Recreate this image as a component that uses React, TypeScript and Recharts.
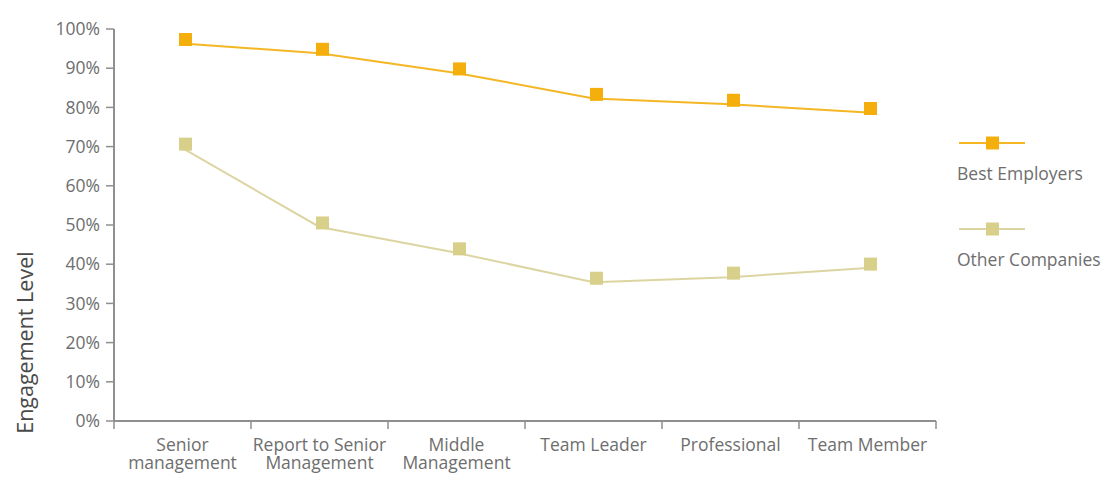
import React from 'react';
import { LineChart, Line, XAxis, YAxis, Label } from 'recharts';

const categories = ['Senior management', 'Report to Senior Management', 'Middle Management', 'Team Leader', 'Professional', 'Team Member'];
const categoryLines = [['Senior', 'management'], ['Report to Senior', 'Management'], ['Middle', 'Management'], ['Team Leader'], ['Professional'], ['Team Member']];
const seriesNames = ['Best Employers', 'Other Companies'];
const bestEmployers = [96.3, 93.8, 88.8, 82.3, 80.8, 78.7];
const otherCompanies = [69.6, 49.5, 42.9, 35.4, 36.7, 39.0];
const yTicks = [0, 10, 20, 30, 40, 50, 60, 70, 80, 90, 100];

const data = categories.map((c, i) => ({ name: c, best: bestEmployers[i], other: otherCompanies[i] }));

const FONT = '"Open Sans", "Noto Sans", sans-serif';
const BEST_LINE = '#F5B624';
const BEST_MARK = '#F4AF0C';
const OTHER_LINE = '#DCD5A2';
const OTHER_MARK = '#D8CF8A';
const AXIS = '#8f8f8f';
const TEXT = '#6e6e6e';

const SquareDot = (color: string) => (props: any) => {
  const { cx, cy, index } = props;
  if (cx == null || cy == null) return null;
  return <rect key={index} x={cx + 3 - 6.5} y={cy - 4 - 6.5} width={13} height={13} fill={color} />;
};

const XTick = (props: any) => {
  const { x, y, payload, index } = props;
  const off = payload && payload.offset ? payload.offset : 68.5;
  const lines = categoryLines[index] || [payload.value];
  const isLast = index === categories.length - 1;
  return (
    <g>
      <line x1={x - off} y1={y - 8} x2={x - off} y2={y} stroke={AXIS} strokeWidth={1.5} />
      {isLast && <line x1={x + off} y1={y - 8} x2={x + off} y2={y} stroke={AXIS} strokeWidth={1.5} />}
      {lines.map((l: string, i: number) => (
        <text key={i} x={x} y={y + 22 + i * 18} textAnchor="middle" fill={TEXT} fontSize={17.5} fontFamily={FONT}>
          {l}
        </text>
      ))}
    </g>
  );
};

const YLabel = (props: any) => {
  const vb = props.viewBox || { x: 10, y: 29, width: 104, height: 392 };
  const cx = vb.x + 15;
  const cy = vb.y + vb.height * 0.8;
  return (
    <text x={cx} y={cy} transform={`rotate(-90 ${cx} ${cy})`} textAnchor="middle" dominantBaseline="central" fill="#4a4a4a" fontSize={21.5} fontFamily={FONT}>
      Engagement Level
    </text>
  );
};

const legendItems = [
  { name: seriesNames[0], line: BEST_LINE, mark: BEST_MARK },
  { name: seriesNames[1], line: OTHER_LINE, mark: OTHER_MARK },
];

const ChartLegend = () => (
  <div style={{ position: 'absolute', left: 957, top: 135, width: 153, fontFamily: FONT }}>
    {legendItems.map((it, i) => (
      <div key={i} style={{ marginBottom: i === 0 ? 37 : 0 }}>
        <svg width={70} height={16} style={{ display: 'block' }}>
          <line x1={2} y1={8} x2={68} y2={8} stroke={it.line} strokeWidth={2} />
          <rect x={29} y={1.5} width={13} height={13} fill={it.mark} />
        </svg>
        <div style={{ fontSize: 17.5, color: TEXT, marginTop: 11, lineHeight: '22px', whiteSpace: 'nowrap' }}>{it.name}</div>
      </div>
    ))}
  </div>
);

export default function App() {
  return (
    <div style={{ position: 'absolute', left: 0, top: 0, width: 1110, height: 477, background: '#fff' }}>
      <LineChart width={1110} height={477} data={data} margin={{ top: 29, right: 174, bottom: 0, left: 10 }}>
        <XAxis
          dataKey="name"
          scale="band"
          interval={0}
          height={56}
          tickLine={false}
          axisLine={{ stroke: AXIS, strokeWidth: 2 }}
          tick={<XTick />}
        />
        <YAxis
          width={104}
          domain={[0, 100]}
          ticks={yTicks}
          interval={0}
          tickFormatter={(v: number) => `${v}%`}
          tickSize={8}
          tickMargin={6}
          tickLine={{ stroke: AXIS, strokeWidth: 1.5 }}
          axisLine={{ stroke: AXIS, strokeWidth: 2 }}
          tick={{ fill: TEXT, fontSize: 17.5, fontFamily: FONT }}
        >
          <Label content={<YLabel />} />
        </YAxis>
        <Line
          type="linear"
          dataKey="best"
          name={seriesNames[0]}
          stroke={BEST_LINE}
          strokeWidth={2}
          dot={SquareDot(BEST_MARK)}
          activeDot={false}
          isAnimationActive={false}
        />
        <Line
          type="linear"
          dataKey="other"
          name={seriesNames[1]}
          stroke={OTHER_LINE}
          strokeWidth={2}
          dot={SquareDot(OTHER_MARK)}
          activeDot={false}
          isAnimationActive={false}
        />
      </LineChart>
      <ChartLegend />
    </div>
  );
}
